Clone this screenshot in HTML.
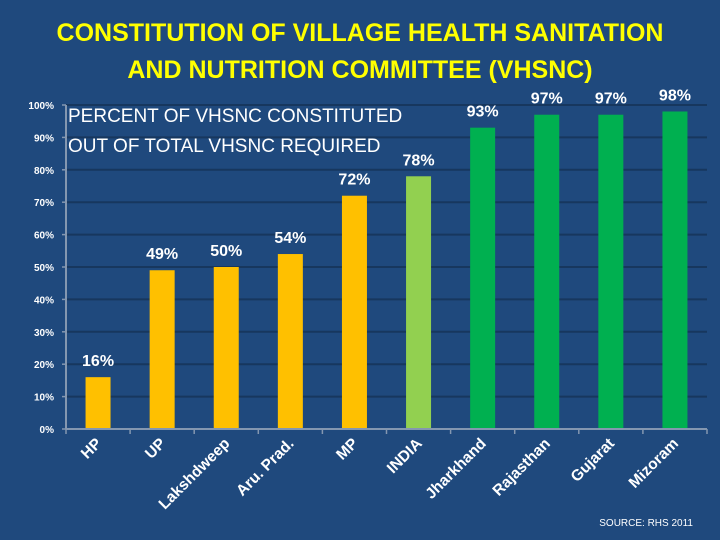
<!DOCTYPE html>
<html><head><meta charset="utf-8"><style>
body{margin:0;background:#1F497D;}
svg{display:block;font-family:"Liberation Sans",sans-serif;}
</style></head><body>
<svg id="chart" width="720" height="540" viewBox="0 0 720 540">
<rect x="0" y="0" width="720" height="540" fill="#1F497D"/>
<text x="360" y="41" text-anchor="middle" fill="#FFFF00" font-size="25" font-weight="bold">CONSTITUTION OF VILLAGE HEALTH SANITATION</text>
<text x="360" y="78" text-anchor="middle" fill="#FFFF00" font-size="25" font-weight="bold">AND NUTRITION COMMITTEE (VHSNC)</text>
<g id="grid"></g>
<g id="bars"></g>
<g id="axes"></g>
<text x="68" y="122" fill="#fff" font-size="19">PERCENT OF VHSNC CONSTITUTED</text>
<text x="68" y="152" fill="#fff" font-size="19">OUT OF TOTAL VHSNC REQUIRED</text>
<text x="693" y="526" text-anchor="end" fill="#fff" font-size="10">SOURCE: RHS 2011</text>
</svg>
<script>
const categories=["HP","UP","Lakshdweep","Aru. Prad.","MP","INDIA","Jharkhand","Rajasthan","Gujarat","Mizoram"];
const values=[16,49,50,54,72,78,93,97,97,98];
const barColors=["#FFC000","#FFC000","#FFC000","#FFC000","#FFC000","#92D050","#00B050","#00B050","#00B050","#00B050"];
const yTicks=[0,10,20,30,40,50,60,70,80,90,100];
const NS="http://www.w3.org/2000/svg";
const x0=66,band=64.1,y0=429,yTop=105,barW=25;
function yS(v){return y0-(v/100)*(y0-yTop);}
function xC(i){return x0+band*i+band/2;}
function mk(t,a,p){const e=document.createElementNS(NS,t);for(const k in a)e.setAttribute(k,a[k]);p.appendChild(e);return e;}
const grid=document.getElementById('grid'),bars=document.getElementById('bars'),axes=document.getElementById('axes');
yTicks.forEach(v=>{
 if(v>0){const l=mk('line',{x1:x0,x2:x0+band*categories.length,y1:yS(v),y2:yS(v),stroke:'#17375E','stroke-width':2},grid);
 
 }
 const t=mk('text',{x:54,y:yS(v)+4,'text-anchor':'end',fill:'#fff','font-size':10,'font-weight':'bold'},axes);
 t.textContent=v+'%';
 
 
 const tk=mk('line',{x1:x0-4,x2:x0,y1:yS(v),y2:yS(v),stroke:'#8497B0','stroke-width':1.5},axes);
 
 
});
const ya=mk('line',{x1:x0,x2:x0,y1:yTop,y2:y0,stroke:'#8497B0','stroke-width':2},axes);


const xa=mk('line',{x1:x0,x2:x0+band*categories.length,y1:y0,y2:y0,stroke:'#8497B0','stroke-width':2},axes);


for(let i=0;i<=categories.length;i++){
 const tk=mk('line',{x1:x0+band*i,x2:x0+band*i,y1:y0,y2:y0+5,stroke:'#8497B0','stroke-width':1.5},axes);
 
 
}
categories.forEach((c,i)=>{
 const cx=xC(i),top=yS(values[i]);
 const r=mk('rect',{x:cx-barW/2,y:top,width:barW,height:y0-top,fill:barColors[i]},bars);
 
 
 const lb=mk('text',{x:cx,y:top-11,'text-anchor':'middle',fill:'#fff','font-size':16,'font-weight':'bold'},bars);
 lb.textContent=values[i]+'%';
 
 
 const ax=cx-3,ay=y0+8;
 const xl=mk('text',{x:ax,y:ay,'text-anchor':'end',fill:'#fff','font-size':15.5,'font-weight':'bold',transform:`rotate(-45 ${ax} ${ay})`,'dominant-baseline':'hanging'},axes);
 xl.textContent=c;
 
 
});
</script>
</body></html>
